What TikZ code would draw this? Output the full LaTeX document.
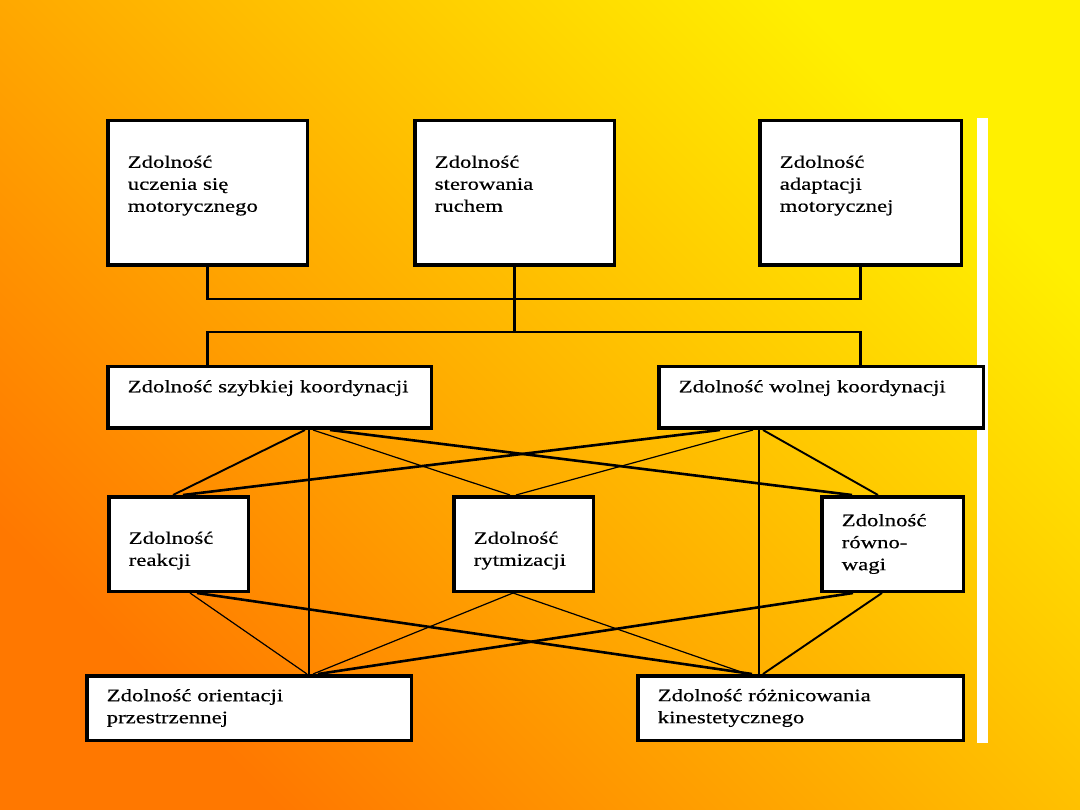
\documentclass[tikz,border=0pt]{standalone}
\usepackage{fontspec}
\setmainfont{Liberation Serif}[FakeStretch=1.3, FakeBold=0.4]
\definecolor{bgorange}{HTML}{FF7800}
\definecolor{bgyellow}{HTML}{FFF000}

\begin{document}
\begin{tikzpicture}[
  x=1pt, y=-1pt, line join=miter,
  box/.style={draw=black, fill=white, line width=3.5pt, align=left,
    inner xsep=20pt, font=\fontsize{17.5}{22}\selectfont},
  tree/.style={line width=2.8pt},
  heavy/.style={line width=2.6pt},
  medium/.style={line width=1.9pt},
  light/.style={line width=1.2pt}]

% ---- background --------------------------------------------------------
\shade[shading=axis, bottom color=bgorange, top color=bgyellow, shading angle=-45]
  (0,0) rectangle (1080,810);
\fill[white] (977,118) rectangle (988,743);

% ---- top row -------------------------------------------------------------
\node[box, minimum width=199.5, minimum height=144.5, text width=159.5] (ucz) at (207.5,193)
  {Zdolność\\uczenia się\\motorycznego\\[-10pt]\strut};
\node[box, minimum width=199.5, minimum height=144.5, text width=159.5] (ste) at (514.5,193)
  {Zdolność\\sterowania\\ruchem\\[-10pt]\strut};
\node[box, minimum width=201.5, minimum height=144.5, text width=161.5] (ada) at (860.5,193)
  {Zdolność\\adaptacji\\motorycznej\\[-10pt]\strut};

% ---- coordination --------------------------------------------------------
\node[box, minimum width=323.5, minimum height=61.5, text width=283.5] (szy) at (269.5,397.5)
  {Zdolność szybkiej koordynacji\\[-6pt]\strut};
\node[box, minimum width=324.5, minimum height=61.5, text width=284.5] (wol) at (821,397.5)
  {Zdolność wolnej koordynacji\\[-6pt]\strut};

% ---- middle row ----------------------------------------------------------
\node[box, minimum width=139.5, minimum height=94.5, text width=99.5] (rea) at (178.5,544)
  {\strut\\[-12pt]Zdolność\\reakcji};
\node[box, minimum width=139.5, minimum height=94.5, text width=99.5] (ryt) at (523.5,544)
  {\strut\\[-12pt]Zdolność\\rytmizacji};
\node[box, minimum width=141.5, minimum height=94.5, text width=101.5] (row) at (892.5,544)
  {Zdolność\\równo-\\wagi};

% ---- bottom row ----------------------------------------------------------
\node[box, minimum width=324.5, minimum height=64.5, text width=284.5] (ori) at (249,708)
  {Zdolność orientacji\\przestrzennej};
\node[box, minimum width=325.5, minimum height=64.5, text width=285.5] (roz) at (800.5,708)
  {Zdolność różnicowania\\kinestetycznego};

% ---- tree --------------------------------------------------------------
\coordinate (bus1) at (514.5,299);
\coordinate (bus2) at (514.5,332);
\draw[tree] (ucz.south) |- (bus1) -| (ada.south);
\draw[tree] (ste.south) -- (bus2);
\draw[tree] (szy.north -| ucz.south) |- (bus2) -| (wol.north -| ada.south);

% ---- links to the middle row -------------------------------------------
\draw[medium] ([xshift=35.5]szy.south) -- ([xshift=-5.5]rea.north);
\draw[tree]   ([xshift=39.5]szy.south) -- ([xshift=60]ori.north);
\draw[light]  ([xshift=43.5]szy.south) -- ([xshift=-13.5]ryt.north);
\draw[heavy]  ([xshift=60.5]szy.south) -- ([xshift=-40.5]row.north);
\draw[heavy]  ([xshift=-101]wol.south) -- ([xshift=4.5]rea.north);
\draw[light]  ([xshift=-68]wol.south) -- ([xshift=-7.5]ryt.north);
\draw[tree]   ([xshift=-62]wol.south) -- ([xshift=-41.5]roz.north);
\draw[medium] ([xshift=-58]wol.south) -- ([xshift=-14.5]row.north);

% ---- links to the bottom row -------------------------------------------
\draw[light]  ([xshift=11.5]rea.south) -- ([xshift=58]ori.north);
\draw[heavy]  ([xshift=18.5]rea.south) -- ([xshift=-48.5]roz.north);
\draw[light]  ([xshift=-10.5]ryt.south) -- ([xshift=64]ori.north);
\draw[light]  ([xshift=-10.5]ryt.south) -- ([xshift=-53.5]roz.north);
\draw[heavy]  ([xshift=-39.5]row.south) -- ([xshift=69]ori.north);
\draw[medium] ([xshift=-10.5]row.south) -- ([xshift=-37.5]roz.north);

\end{tikzpicture}
\end{document}
